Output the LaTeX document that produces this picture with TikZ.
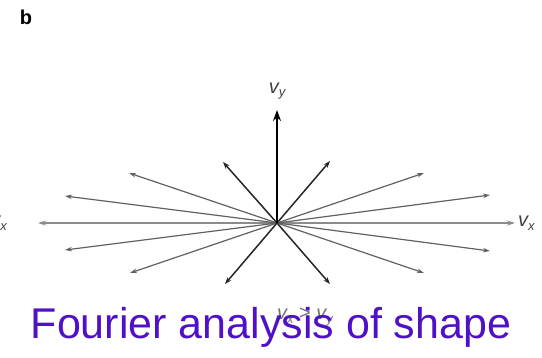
\documentclass[tikz,border=0pt]{standalone}
\usepackage{fontspec}
\setmainfont{Liberation Sans}
\usetikzlibrary{arrows.meta}
\definecolor{fourier}{RGB}{80,16,200}
\tikzset{
  dark/.style={draw=black!85, line width=1.5pt, -{Stealth[length=7pt,width=5pt]}},
  light/.style={draw=black!62, line width=1.2pt, -{Stealth[length=7pt,width=4.5pt,fill=black!85]}},
  axis/.style={draw=black!45, line width=1.9pt, -{Stealth[length=8pt,width=5pt,fill=black!85]}},
  lab/.style={font=\fontsize{20}{22}\selectfont\itshape, text=black!75, inner sep=0pt},
}
\begin{document}
\begin{tikzpicture}[x=1pt,y=-1pt]
\useasboundingbox (0,0) rectangle (542,357);
\clip (0,0) rectangle (542,357);
\node[font=\fontsize{20}{22}\selectfont\bfseries, inner sep=0pt] (b) at (26,17) {b};
\coordinate (o) at (277,223);
\coordinate (up) at (277,110);
\coordinate (L0) at (38,223);
\coordinate (L1) at (65,196);
\coordinate (L2) at (129,173);
\coordinate (L3) at (223,162);
\coordinate (L4) at (65,250);
\coordinate (L5) at (130,273);
\coordinate (L6) at (225,284);
\coordinate (R0) at (515,223);
\coordinate (R1) at (490,195);
\coordinate (R2) at (424,173);
\coordinate (R3) at (330,161);
\coordinate (R4) at (490,251);
\coordinate (R5) at (424,273);
\coordinate (R6) at (330,284);
\draw[axis] (o) -- (L0);
\draw[axis] (o) -- (R0);
\foreach \p in {L1,L2,L4,L5,R1,R2,R4,R5} \draw[light] (o) -- (\p);
\foreach \p in {L3,L6,R3,R6} \draw[dark] (o) -- (\p);
\draw[draw=black, line width=1.6pt, -{Stealth[length=11pt,width=8pt]}] (o) -- (up);
\node[lab] (vy) at (277,91) {v\raisebox{-0.35ex}{\fontsize{13}{14}\selectfont y}};
\node[lab, anchor=west] (vx) at (518,223) {v\raisebox{-0.35ex}{\fontsize{13}{14}\selectfont x}};
\node[lab, anchor=east] (vxl) at (7,223) {v\raisebox{-0.35ex}{\fontsize{13}{14}\selectfont x}};
\node[lab, text=black!55] (cmp) at (305,317) {v\raisebox{-0.35ex}{\fontsize{13}{14}\selectfont x}\ \upshape{>}\ \itshape v\raisebox{-0.35ex}{\fontsize{13}{14}\selectfont y}};
\node[font=\fontsize{43}{48}\selectfont, text=fourier, inner sep=0pt] (title) at (271,327) {Fourier analysis of shape};
\end{tikzpicture}
\end{document}
